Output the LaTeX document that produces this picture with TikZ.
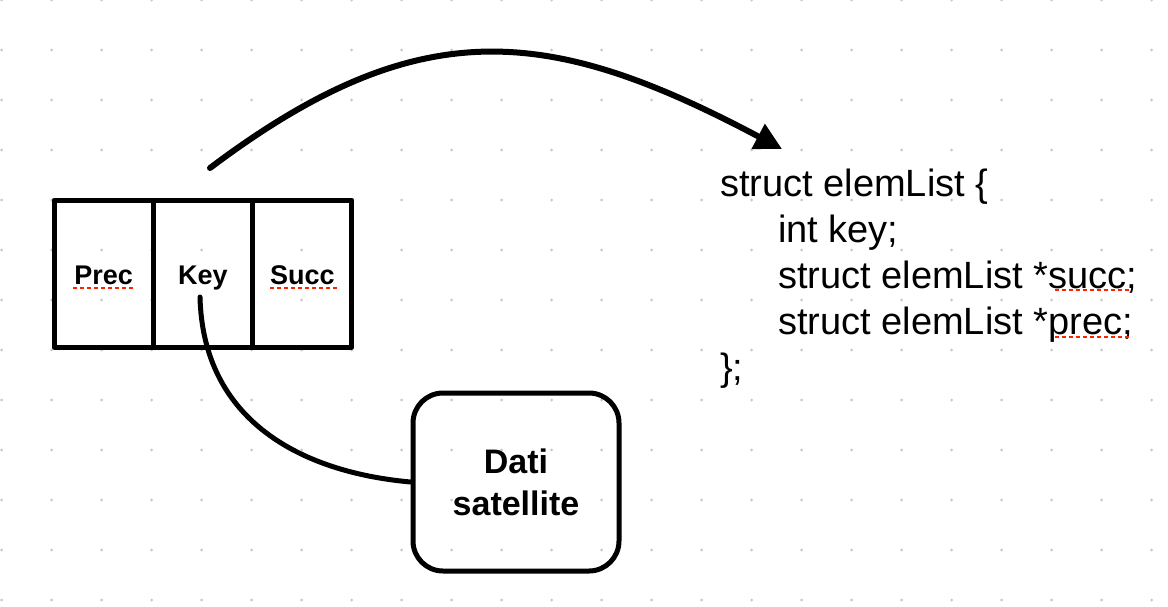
\documentclass[tikz,border=0pt]{standalone}
\usepackage{fontspec}
\setmainfont{Liberation Sans}
\usetikzlibrary{positioning,arrows.meta}
\begin{document}
\begin{tikzpicture}[x=1pt,y=-1pt,line join=round,line cap=round,node distance=0pt]
	\tikzset{cell/.style={draw,line width=5pt,outer sep=0pt,minimum width=99.3pt,minimum height=147pt,text height=21pt,text depth=0pt,font=\fontsize{27}{30}\selectfont\bfseries},
		datibox/.style={draw,line width=5pt,rounded corners=30pt,minimum width=206pt,minimum height=178pt,align=center,font=\fontsize{34}{42}\selectfont\bfseries},
		codeline/.style={anchor=base west,inner sep=0pt,font=\fontsize{38}{46}\selectfont},
		spell/.style={draw=red!75!orange,line width=2.5pt,dash pattern=on 4pt off 3pt,line cap=butt}}
	\useasboundingbox (0,0) rectangle (1168,606);
	% dotted paper
	\foreach \i in {0,...,23} \foreach \j in {0,...,12}
		\fill[black!22] (1.7+50*\i,50*\j) circle (1.5pt);
	% the record
	\node[cell] (prec) at (103.7,273.5) {Prec};
	\node[cell,right=of prec] (key) {Key};
	\node[cell,right=of key] (succ) {Succ};
	\draw[spell] (73,288)--(133,288) (270,288)--(338,288);
	\node[datibox] (dati) at (516,482) {Dati\\satellite};
	\coordinate (keytail) at (200,297);
	\draw[line width=5pt] (keytail) .. controls (203,420) and (300,472) .. (dati.west);
	% arc to the struct
	\coordinate (arcstart) at (210,168);
	\coordinate (arctip) at (782,149);
	\draw[line width=6pt,-{Triangle[length=27pt,width=27pt]}] (arcstart) .. controls (420,10) and (550,26) .. (arctip);
	\node[codeline] (line1) at (720,196) {struct elemList \{};
	\node[codeline] (line2) at (778,242) {int key;};
	\node[codeline] (line3) at (778,288) {struct elemList *succ;};
	\node[codeline] (line4) at (778,334) {struct elemList *prec;};
	\node[codeline] (line5) at (720,380) {\};};
	\draw[spell] (1055,290)--(1132,290) (1055,337)--(1132,337);
\end{tikzpicture}
\end{document}
